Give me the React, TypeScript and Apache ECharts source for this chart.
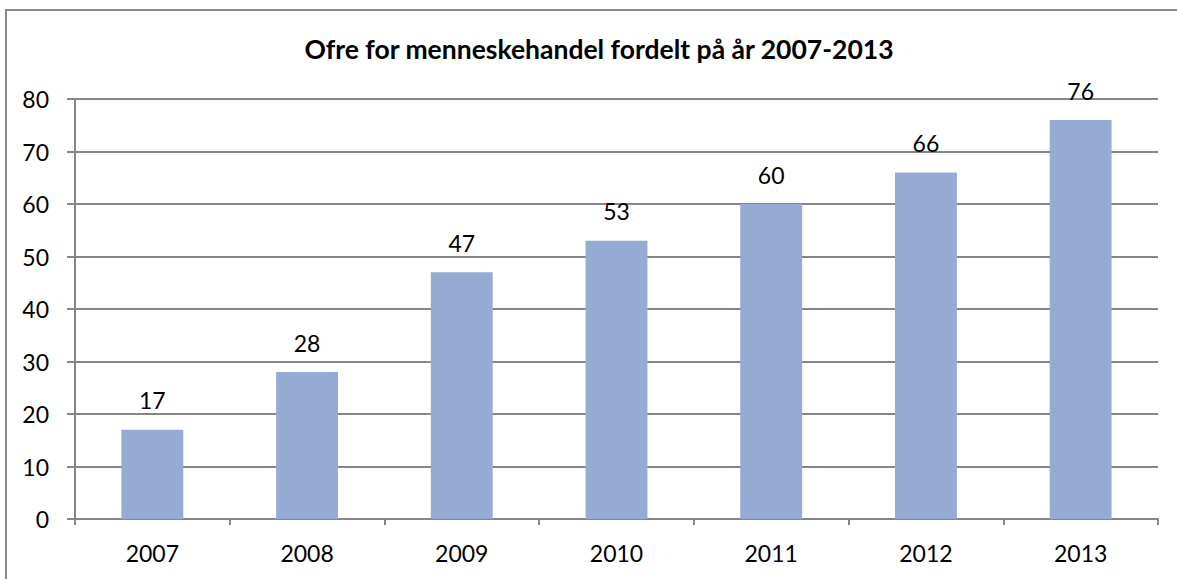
import React, { useEffect, useRef } from "react";
import * as echarts from "echarts";

const categories = ["2007", "2008", "2009", "2010", "2011", "2012", "2013"];
const values = [17, 28, 47, 53, 60, 66, 76];
const titleText = "Ofre for menneskehandel fordelt på år 2007-2013";

export default function App() {
  const ref = useRef<HTMLDivElement>(null);
  useEffect(() => {
    document.body.style.margin = "0";
    const chart = echarts.init(ref.current!, null, { renderer: "svg" });
    const font = "Lato, 'Open Sans', sans-serif";
    chart.setOption({
      animation: false,
      backgroundColor: "#ffffff",
      title: {
        text: titleText,
        left: 594,
        textAlign: "center",
        top: 30,
        textStyle: { fontFamily: font, fontSize: 26.5, fontWeight: "bold", color: "#000" },
      },
      graphic: [
        {
          type: "rect",
          shape: { x: 6, y: 10, width: 1200, height: 600 },
          style: { fill: "none", stroke: "#8a8a8a", lineWidth: 2 },
          silent: true,
        },
      ],
      grid: { left: 75, right: 19, top: 99, bottom: 60, containLabel: false },
      xAxis: {
        type: "category",
        data: categories,
        axisLine: { lineStyle: { color: "#868686", width: 2 } },
        axisTick: { show: true, length: 6, lineStyle: { color: "#868686", width: 2 } },
        axisLabel: { color: "#000", fontFamily: font, fontSize: 23, margin: 22 },
      },
      yAxis: {
        type: "value",
        min: 0,
        max: 80,
        interval: 10,
        axisLine: { show: true, lineStyle: { color: "#868686", width: 2 } },
        axisTick: { show: true, length: 8, lineStyle: { color: "#868686", width: 2 } },
        splitLine: { lineStyle: { color: "#868686", width: 2 } },
        axisLabel: { color: "#000", fontFamily: font, fontSize: 23, margin: 26 },
      },
      series: [
        {
          type: "bar",
          data: values,
          barWidth: "40%",
          itemStyle: { color: "#95abd3" },
          label: {
            show: true,
            position: "top",
            distance: 18,
            color: "#000",
            fontFamily: font,
            fontSize: 23,
          },
        },
      ],
    });
    return () => chart.dispose();
  }, []);
  return <div ref={ref} style={{ width: 1177, height: 579 }} />;
}
